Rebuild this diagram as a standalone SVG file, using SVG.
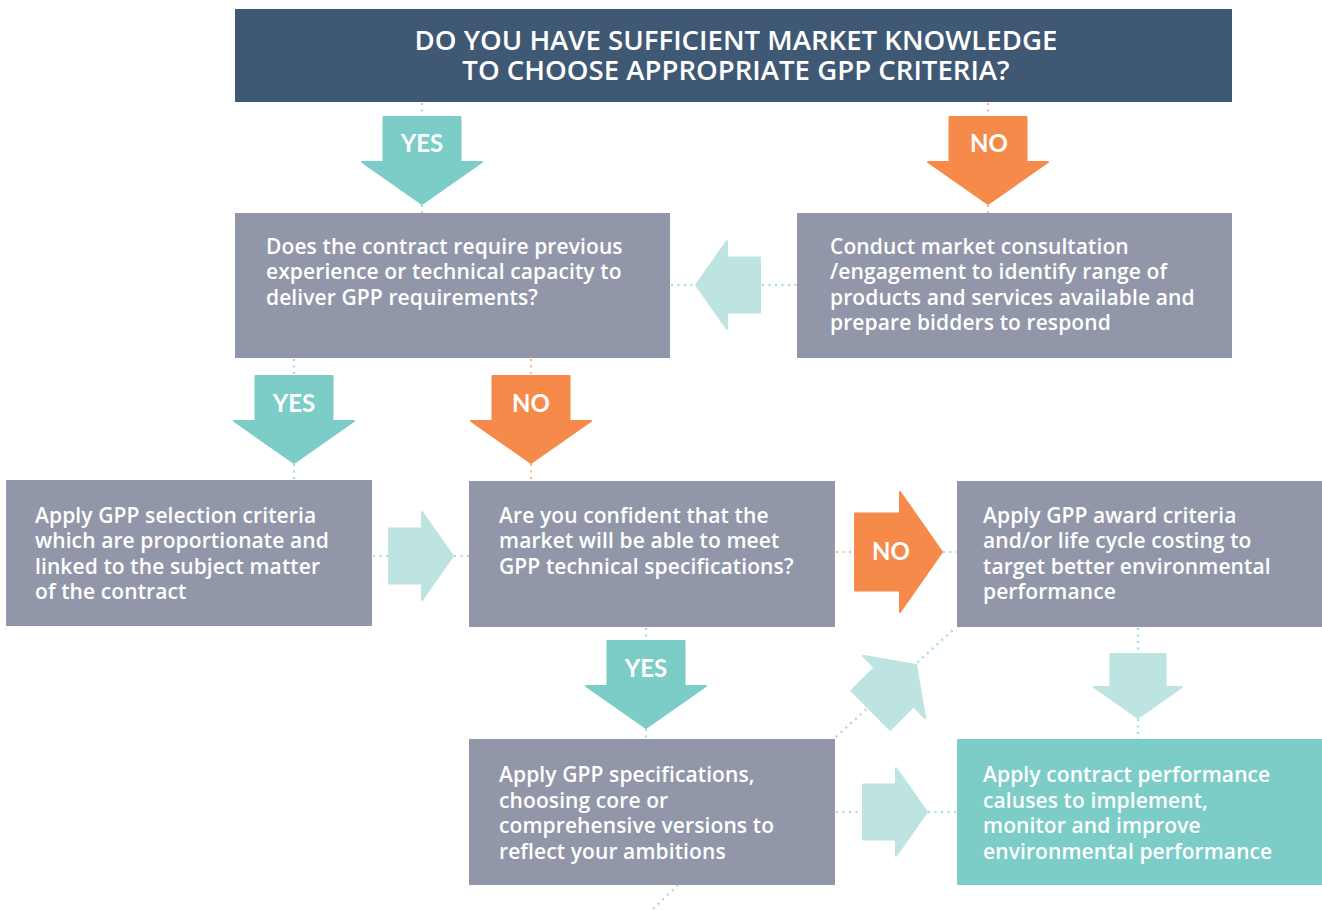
<svg xmlns="http://www.w3.org/2000/svg" xmlns:xlink="http://www.w3.org/1999/xlink" width="1322" height="910" viewBox="0 0 1322 910">
  <style>
    .hdr { fill: #3f5873; }
    .box { fill: #9197a9; }
    .box-teal { fill: #7ccdc8; }
    .t-hdr { font-family: "Open Sans", "Liberation Sans", sans-serif; font-weight: 600; font-size: 27.6px; fill: #ffffff; text-anchor: middle; }
    .t-box { font-family: "Open Sans", "Liberation Sans", sans-serif; font-weight: 600; font-size: 21px; letter-spacing: 0.1px; fill: #ffffff; }
    .t-lbl { font-family: Lato, "Liberation Sans", sans-serif; font-weight: 700; font-size: 24px; fill: #ffffff; text-anchor: middle; }
    .yes { fill: #7ccdc8; stroke: #7ccdc8; }
    .no { fill: #f58a4b; stroke: #f58a4b; }
    .lite { fill: #bde4e1; stroke: #bde4e1; }
    .yes, .no, .lite { stroke-width: 2; stroke-linejoin: round; }
    .dot-t { stroke: #a6dcd8; stroke-width: 2.2; stroke-dasharray: 2 4.5; fill: none; }
    .dot-o { stroke: #f7b792; stroke-width: 2.2; stroke-dasharray: 2 4.5; fill: none; }
  </style>
  <defs>
    <!-- large decision arrow, tip at origin, pointing down -->
    <path id="bigArrow" d="M0,0 L-60,-42 L-38.5,-42 L-38.5,-87 L38.5,-87 L38.5,-42 L60,-42 Z"/>
    <!-- small flow arrow, tip at origin, pointing right -->
    <path id="smallArrow" d="M0,0 L-31,44 L-31,27.5 L-64,27.5 L-64,-27.5 L-31,-27.5 L-31,-44 Z"/>
  </defs>

  <!-- connectors -->
  <g id="connectors">
    <line class="dot-t" x1="422" y1="103" x2="422" y2="116"/>
    <line class="dot-t" x1="422" y1="205" x2="422" y2="213"/>
    <line class="dot-o" x1="988" y1="103" x2="988" y2="116"/>
    <line class="dot-o" x1="988" y1="205" x2="988" y2="213"/>
    <line class="dot-t" x1="671" y1="285" x2="696" y2="285"/>
    <line class="dot-t" x1="762" y1="285" x2="797" y2="285"/>
    <line class="dot-t" x1="294" y1="359" x2="294" y2="375"/>
    <line class="dot-t" x1="294" y1="464" x2="294" y2="480"/>
    <line class="dot-o" x1="531" y1="359" x2="531" y2="375"/>
    <line class="dot-o" x1="531" y1="464" x2="531" y2="481"/>
    <line class="dot-t" x1="373" y1="556" x2="388" y2="556"/>
    <line class="dot-t" x1="454" y1="556" x2="469" y2="556"/>
    <line class="dot-o" x1="836" y1="552" x2="853" y2="552"/>
    <line class="dot-t" x1="943" y1="552" x2="957" y2="552"/>
    <line class="dot-t" x1="646" y1="628" x2="646" y2="640"/>
    <line class="dot-t" x1="646" y1="729" x2="646" y2="739"/>
    <line class="dot-t" x1="1138" y1="628" x2="1138" y2="652"/>
    <line class="dot-t" x1="1138" y1="719" x2="1138" y2="739"/>
    <line class="dot-t" x1="836" y1="812" x2="861" y2="812"/>
    <line class="dot-t" x1="928" y1="812" x2="957" y2="812"/>
    <line class="dot-t" x1="836" y1="737" x2="954" y2="629"/>
    <line class="dot-t" x1="678" y1="885" x2="652" y2="910"/>

    <!-- decision arrows -->
    <use xlink:href="#bigArrow" class="yes" transform="translate(422,204)"/>
    <use xlink:href="#bigArrow" class="no" transform="translate(988,204)"/>
    <use xlink:href="#bigArrow" class="yes" transform="translate(294,463)"/>
    <use xlink:href="#bigArrow" class="no" transform="translate(531,463)"/>
    <use xlink:href="#bigArrow" class="yes" transform="translate(646,728)"/>
    <use xlink:href="#bigArrow" class="no" transform="translate(942,552) rotate(-90)"/>

    <!-- flow arrows -->
    <use xlink:href="#smallArrow" class="lite" transform="translate(696,285) rotate(180)"/>
    <use xlink:href="#smallArrow" class="lite" transform="translate(453,556)"/>
    <use xlink:href="#smallArrow" class="lite" transform="translate(1138,718) rotate(90)"/>
    <use xlink:href="#smallArrow" class="lite" transform="translate(927,812)"/>
    <use xlink:href="#smallArrow" class="lite" transform="translate(916,665) rotate(-45)"/>

    <text class="t-lbl" x="422" y="152">YES</text>
    <text class="t-lbl" x="989" y="152">NO</text>
    <text class="t-lbl" x="294" y="412">YES</text>
    <text class="t-lbl" x="531" y="412">NO</text>
    <text class="t-lbl" x="646" y="677">YES</text>
    <text class="t-lbl" x="891" y="560">NO</text>
  </g>

  <!-- question header -->
  <g id="header">
    <rect class="hdr" x="235" y="9" width="997" height="93"/>
    <text class="t-hdr" x="736" y="50">DO YOU HAVE SUFFICIENT MARKET KNOWLEDGE</text>
    <text class="t-hdr" x="736" y="80">TO CHOOSE APPROPRIATE GPP CRITERIA?</text>
  </g>

  <g id="experience">
    <rect class="box" x="235" y="213" width="435" height="145"/>
    <text class="t-box" x="266" y="254">Does the contract require previous</text>
    <text class="t-box" x="266" y="279">experience or technical capacity to</text>
    <text class="t-box" x="266" y="305">deliver GPP requirements?</text>
  </g>

  <g id="consultation">
    <rect class="box" x="797" y="213" width="435" height="145"/>
    <text class="t-box" x="830" y="254">Conduct market consultation</text>
    <text class="t-box" x="830" y="279">/engagement to identify range of</text>
    <text class="t-box" x="830" y="305">products and services available and</text>
    <text class="t-box" x="830" y="330">prepare bidders to respond</text>
  </g>

  <g id="selection">
    <rect class="box" x="6" y="480" width="366" height="146"/>
    <text class="t-box" x="35" y="523">Apply GPP selection criteria</text>
    <text class="t-box" x="35" y="548">which are proportionate and</text>
    <text class="t-box" x="35" y="574">linked to the subject matter</text>
    <text class="t-box" x="35" y="599">of the contract</text>
  </g>

  <g id="confidence">
    <rect class="box" x="469" y="481" width="366" height="146"/>
    <text class="t-box" x="499" y="523">Are you confident that the</text>
    <text class="t-box" x="499" y="548">market will be able to meet</text>
    <text class="t-box" x="499" y="574">GPP technical specifications?</text>
  </g>

  <g id="award">
    <rect class="box" x="957" y="481" width="365" height="146"/>
    <text class="t-box" x="983" y="523">Apply GPP award criteria</text>
    <text class="t-box" x="983" y="548">and/or life cycle costing to</text>
    <text class="t-box" x="983" y="574">target better environmental</text>
    <text class="t-box" x="983" y="599">performance</text>
  </g>

  <g id="specifications">
    <rect class="box" x="469" y="739" width="366" height="146"/>
    <text class="t-box" x="499" y="782">Apply GPP specifications,</text>
    <text class="t-box" x="499" y="808">choosing core or</text>
    <text class="t-box" x="499" y="833">comprehensive versions to</text>
    <text class="t-box" x="499" y="859">reflect your ambitions</text>
  </g>

  <g id="performance">
    <rect class="box-teal" x="957" y="739" width="365" height="146"/>
    <text class="t-box" x="983" y="782">Apply contract performance</text>
    <text class="t-box" x="983" y="808">caluses to implement,</text>
    <text class="t-box" x="983" y="833">monitor and improve</text>
    <text class="t-box" x="983" y="859">environmental performance</text>
  </g>
</svg>
